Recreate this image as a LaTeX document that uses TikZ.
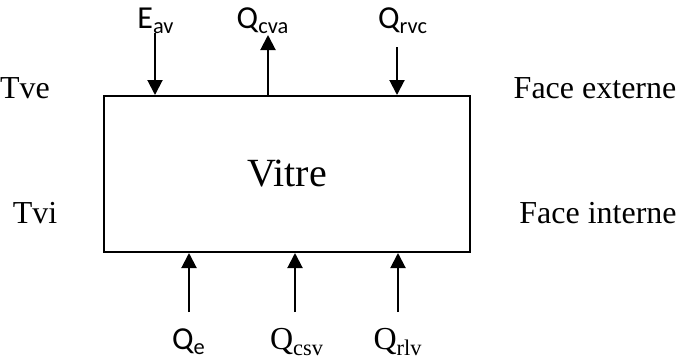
\documentclass[tikz,border=0pt]{standalone}
\usepackage{fontspec}
\setmainfont{Liberation Serif}
\newfontfamily\calibri{Carlito}
\usetikzlibrary{arrows.meta,positioning}
\newcommand{\idx}[1]{\textsubscript{#1}}

\begin{document}
\begin{tikzpicture}[x=0.5pt,y=-0.5pt,>={Triangle[length=7.5pt,width=7.5pt]},
  flux/.style={->,line width=1pt},
  sflabel/.style={font=\calibri\fontsize{16}{18}\selectfont,inner sep=0pt},
  rmlabel/.style={font=\fontsize{16}{18}\selectfont,inner sep=0pt}]
  \useasboundingbox (0,0) rectangle (678,359);

  % the glass pane
  \node[draw,line width=1pt,minimum width=183pt,minimum height=78pt,inner sep=0pt,
        font=\fontsize{20}{24}\selectfont] (vitre) at (287,174) {Vitre};

  % side labels
  \node[rmlabel] (tve) at (25,88) {Tve};
  \node[rmlabel] (tvi) at (35,213) {Tvi};
  \node[rmlabel] (fext) at (595,88) {Face externe};
  \node[rmlabel] (fint) at (598,213) {Face interne};

  % fluxes on the outer face
  \node[sflabel] (eav) at (156,21) {E\idx{av}};
  \node[sflabel] (qcva) at (263,21) {Q\idx{cva}};
  \node[sflabel] (qrvc) at (403,21) {Q\idx{rvc}};
  \coordinate (eavtop) at (155,33);
  \coordinate (qcvatop) at (268,35);
  \coordinate (qrvctop) at (397,47);
  \draw[flux] (eavtop) -- (eavtop |- vitre.north);
  \draw[flux] (qcvatop |- vitre.north) -- (qcvatop);
  \draw[flux] (qrvctop) -- (qrvctop |- vitre.north);

  % fluxes on the inner face
  \node[sflabel] (qe) at (189,342) {Q\idx{e}};
  \node[rmlabel] (qcsv) at (297,342) {Q\idx{csv}};
  \node[rmlabel] (qrlv) at (398,342) {Q\idx{rlv}};
  \coordinate (qebot) at (189,312);
  \coordinate (qcsvbot) at (295,312);
  \coordinate (qrlvbot) at (398,312);
  \draw[flux] (qebot) -- (qebot |- vitre.south);
  \draw[flux] (qcsvbot) -- (qcsvbot |- vitre.south);
  \draw[flux] (qrlvbot) -- (qrlvbot |- vitre.south);
\end{tikzpicture}
\end{document}
